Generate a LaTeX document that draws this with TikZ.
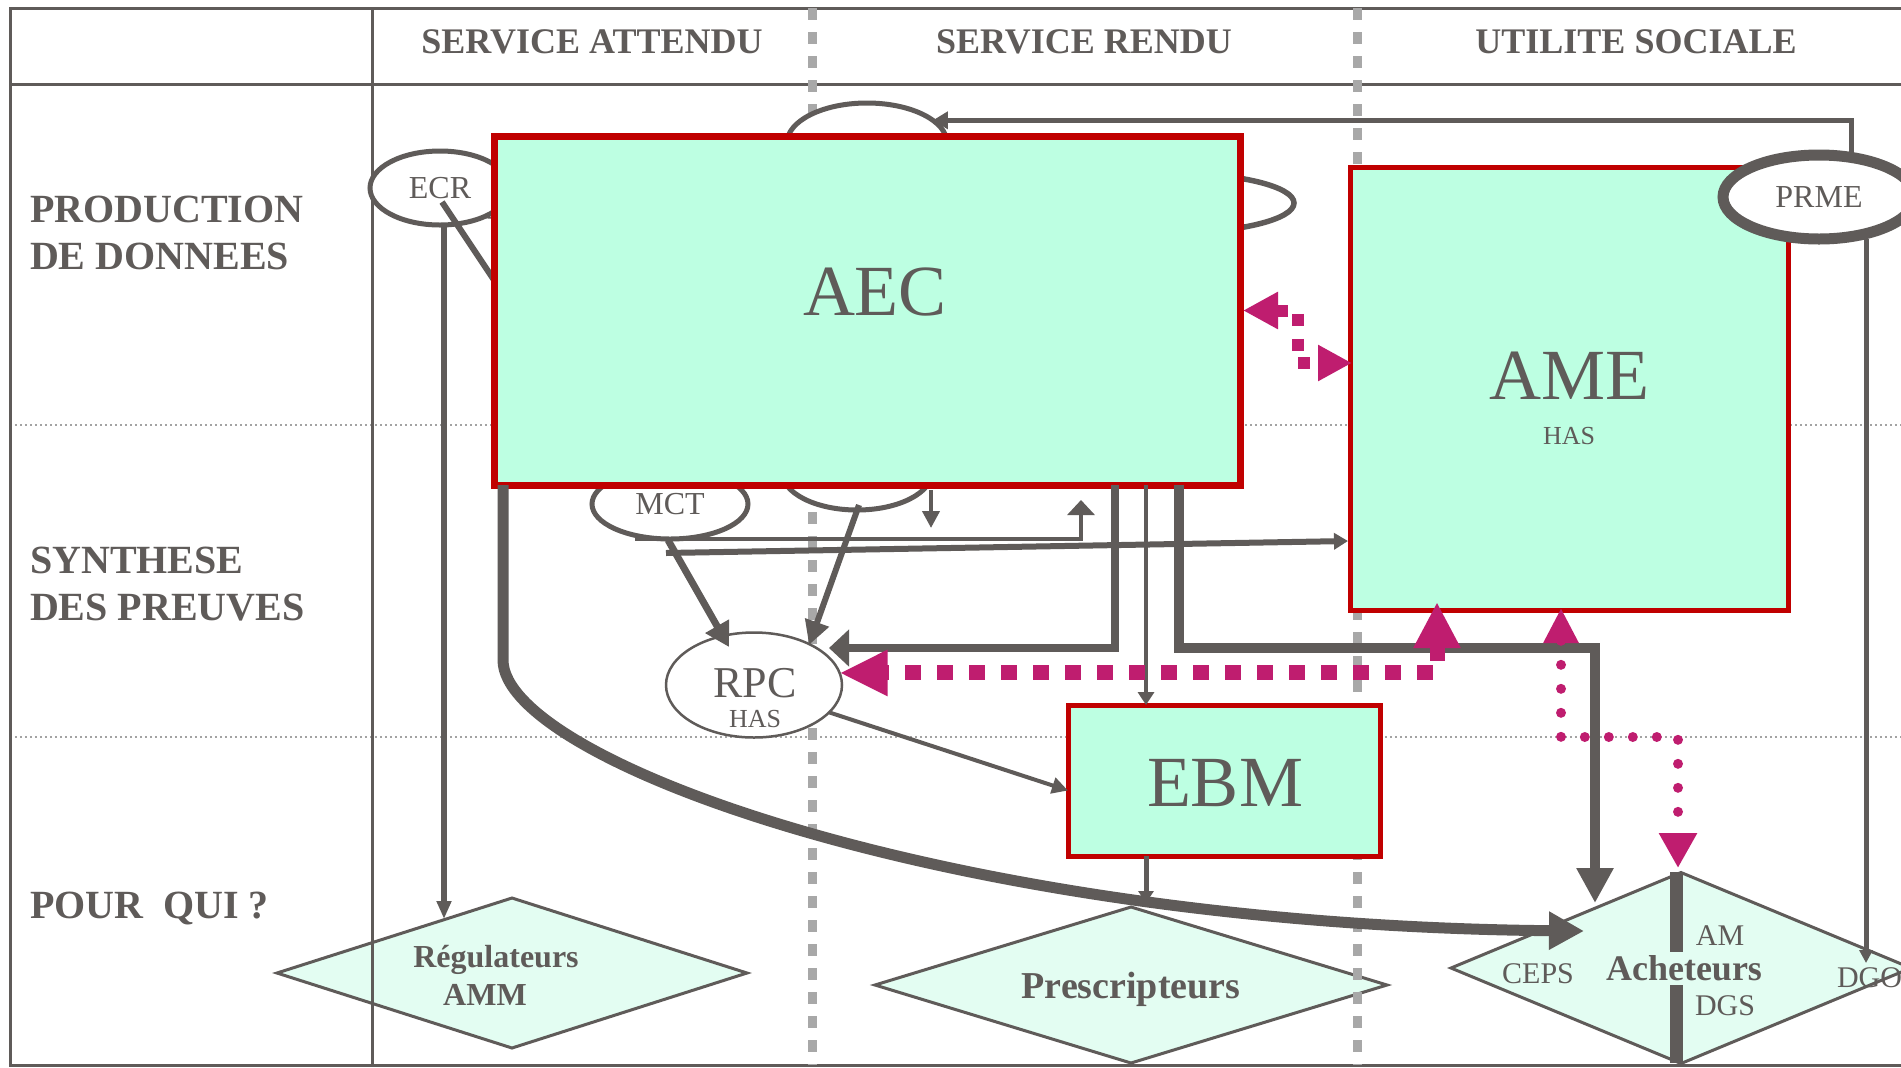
\documentclass[tikz,border=0pt]{standalone}
\usepackage{fontspec}
\setmainfont{Liberation Serif}
\usetikzlibrary{arrows.meta,shapes.geometric,calc}
\definecolor{ink}{HTML}{5F5B59}
\definecolor{boxred}{HTML}{C00000}
\definecolor{mint}{HTML}{BDFFE2}
\definecolor{pale}{HTML}{E3FDF2}
\definecolor{mag}{HTML}{BF1D6F}
\definecolor{sepgray}{HTML}{A8A8A8}
\definecolor{dotgray}{HTML}{A3A3A3}
\pgfdeclarelayer{gridlayer}
\pgfdeclarelayer{underlayer}
\pgfdeclarelayer{overlayer}
\pgfsetlayers{gridlayer,underlayer,main,overlayer}
\tikzset{
  txt/.style={text=ink, inner sep=0pt, outer sep=0pt},
  hdr/.style={txt, font=\fontsize{18}{22}\selectfont\bfseries},
  rowlbl/.style={txt, font=\fontsize{20}{24}\selectfont\bfseries},
  bigtxt/.style={txt, font=\fontsize{36}{42}\selectfont},
  smalltxt/.style={txt, font=\fontsize{13}{16}\selectfont},
  ovaltxt/.style={text=ink, font=\fontsize{16}{19}\selectfont},
  whotxt/.style={txt, font=\fontsize{15}{18}\selectfont},
  boxnode/.style={rectangle, draw=boxred, fill=mint, inner sep=0pt, outer sep=0pt},
  oval/.style={ellipse, draw=ink, fill=white, line width=2.5pt, inner sep=0pt, outer sep=0pt},
  target/.style={diamond, draw=ink, fill=pale, line width=1.5pt, inner sep=0pt, outer sep=0pt},
  conn/.style={draw=ink, line join=miter},
  frameline/.style={draw=ink, line width=1.5pt},
  colsep/.style={draw=sepgray, line width=4.5pt, dash pattern=on 6pt off 6pt},
  rowsep/.style={draw=dotgray, line width=1pt, dash pattern=on 1pt off 1.5pt},
  magdash/.style={draw=mag, line width=7.5pt, dash pattern=on 8pt off 8pt},
  magdot/.style={draw=mag, line width=5pt, dash pattern=on 0pt off 12pt, line cap=round},
}
\begin{document}
\begin{tikzpicture}[x=0.5pt,y=-0.5pt]
\useasboundingbox (0,0) rectangle (1901,1067);

% ---------- table grid, headings and audience diamonds
\begin{pgfonlayer}{gridlayer}
\fill[white] (0,0) rectangle (1901,1067);
\node[target, minimum width=235pt, minimum height=75pt] (REG) at (512,973) {};
\node[target, minimum width=256pt, minimum height=78pt] (PRE) at (1131,985) {};
\node[target, minimum width=230pt, minimum height=95.5pt] (ACH) at (1681,968) {};
\draw[rowsep] (10,425) -- (1901,425);
\draw[rowsep] (10,737) -- (1901,737);
\draw[frameline] (1901,8) -- (10,8) -- (10,1065) -- (1901,1065);
\draw[frameline] (10,84) -- (1901,84);
\draw[frameline] (372,8) -- (372,1065);
\draw[colsep] (812,8) -- (812,1065);
\draw[colsep] (1357,8) -- (1357,1065);
\node[hdr, anchor=base] (hSA) at (592,53) {SERVICE ATTENDU};
\node[hdr, anchor=base] (hSR) at (1084,53) {SERVICE RENDU};
\node[hdr, anchor=base] (hUS) at (1636,53) {UTILITE SOCIALE};
\node[rowlbl, anchor=base west] (rowA1) at (30,222) {PRODUCTION};
\node[rowlbl, anchor=base west] (rowA2) at (30,269) {DE DONNEES};
\node[rowlbl, anchor=base west] (rowB1) at (30,573) {SYNTHESE};
\node[rowlbl, anchor=base west] (rowB2) at (30,620) {DES PREUVES};
\node[rowlbl, anchor=base west] (rowC) at (30,918) {POUR\ \ QUI ?};
\end{pgfonlayer}

% ---------- ellipses partly covered by the AEC box
\begin{pgfonlayer}{underlayer}
\coordinate (ecrC) at (440,188);
\coordinate (ecrW) at (492,219);
\draw[conn, line width=2pt, -{Triangle[length=8pt,width=7pt]}] (ecrC) -- (ecrW);
\node[oval, ovaltxt, minimum width=70pt, minimum height=37pt] (ECR) at (ecrC) {ECR};
\coordinate (ecrDiag) at (514,310);
\draw[conn, line width=3pt] ($(ECR.center)+(2,14)$) -- (ecrDiag);
\node[oval, minimum width=80pt, minimum height=40pt] (TOPE) at (867,143) {};
\node[oval, line width=2.75pt, minimum width=124pt, minimum height=30pt] (RIGHTE) at (1170,203) {};
\node[oval, minimum width=75pt, minimum height=38pt] (MIDE) at (857,472) {};
\node[oval, ovaltxt, minimum width=78pt, minimum height=35pt] (MCT) at (670,504) {MCT};
\end{pgfonlayer}

% ---------- boxes and labels
\node[boxnode, line width=3.5pt, minimum width=373pt, minimum height=174.5pt] (AEC) at (867,310.5) {};
\node[bigtxt, anchor=base] (AECt) at (875,315) {AEC};
\node[boxnode, line width=2.5pt, minimum width=219pt, minimum height=221.5pt] (AME) at (1569,388.5) {};
\node[bigtxt, anchor=base] (AMEt) at (1569,399) {AME};
\node[smalltxt, anchor=base] (AMEh) at (1569,444) {HAS};
\node[boxnode, line width=2.5pt, minimum width=156pt, minimum height=75.5pt] (EBM) at (1224,780.5) {};
\node[bigtxt, anchor=base] (EBMt) at (1225,806) {EBM};
\node[oval, line width=1.25pt, minimum width=88pt, minimum height=52.5pt] (RPC) at (754,685) {};
\node[txt, font=\fontsize{22}{26}\selectfont, anchor=base] (RPCt) at (755,697) {RPC};
\node[smalltxt, anchor=base] (RPCh) at (755,727) {HAS};

\node[txt, font=\fontsize{16}{19}\selectfont\bfseries, anchor=base] (REGt) at (496,967) {Régulateurs};
\node[txt, font=\fontsize{16}{19}\selectfont\bfseries, anchor=base] (REGa) at (485,1005) {AMM};
\node[txt, font=\fontsize{19}{23}\selectfont\bfseries, anchor=base] (PREt) at (1131,998) {Prescripteurs};
\fill[ink] (1669.5,872) rectangle (1682.5,952);
\fill[ink] (1669.5,985) rectangle (1682.5,1063);
\node[txt, font=\fontsize{18}{22}\selectfont\bfseries, anchor=base] (ACHt) at (1684,980) {Acheteurs};
\node[whotxt, anchor=base] (ACHam) at (1720,945) {AM};
\node[whotxt, anchor=base] (ACHdgs) at (1725,1015) {DGS};
\node[whotxt, anchor=base] (ACHceps) at (1538,983) {CEPS};
\node[whotxt, anchor=base west] (ACHdgo) at (1837,987) {DGO};

% ---------- connectors
\begin{pgfonlayer}{overlayer}
\node[oval, ovaltxt, line width=5.5pt, minimum width=96pt, minimum height=42pt] (PRME) at (1819,197) {PRME};
\coordinate (dgoIn) at (1866,963);
\coordinate (regIn) at (444,919);
\coordinate (mctUp) at (1081,500);
\coordinate (ameIn) at (1348,541);
\coordinate (rpcN1) at (729,647);
\coordinate (rpcN2) at (809,645);
\coordinate (midDown) at (931,528);
\coordinate (rpcE) at (829,648);
\coordinate (achTop) at (1595,903);
\coordinate (achLeft) at (1584,931);
\coordinate (preIn) at (1146,903);
\coordinate (achDot) at (1678,868);

\draw[conn, line width=2.5pt, -{Triangle[length=7.5pt,width=8.5pt]}] ($(PRME.north)+(32,0)$) |- (TOPE.19);
\draw[conn, line width=2.5pt, -{Triangle[length=6.5pt,width=6.5pt]}] (PRME.south -| dgoIn) -- (dgoIn);
\draw[conn, line width=3pt, -{Triangle[length=9pt,width=7pt]}] (ECR.south -| regIn) -- (regIn);

\draw[conn, line width=1.75pt, -{Triangle[length=7.5pt,width=13.5pt]}] ($(MCT.south)+(-35,0)$) -| (mctUp);
\draw[conn, line width=3pt, -{Triangle[length=7pt,width=8pt]}] ($(MCT.south)+(-4,14)$) -- (ameIn);
\draw[conn, line width=3.5pt, -{Triangle[length=12pt,width=13pt]}] ($(MCT.south)+(-2,1)$) -- (rpcN1);
\draw[conn, line width=3pt, -{Triangle[length=12pt,width=12pt]}] ($(MIDE.south)+(2,-5)$) -- (rpcN2);
\draw[conn, line width=2pt, -{Triangle[length=8.5pt,width=8.5pt]}] ($(MIDE.east)+(-1,18)$) -- (midDown);

\draw[conn, line width=4pt, -{Triangle[length=10pt,width=18pt]}] ($(AEC.south west)+(621,0)$) |- (rpcE);
\draw[conn, line width=2pt, -{Triangle[length=6.5pt,width=8pt]}] ($(AEC.south west)+(652,0)$) -- ($(EBM.north west)+(78,0)$);
\draw[conn, line width=5pt, -{Triangle[length=17.5pt,width=17.5pt]}] ($(AEC.south west)+(685,0)$) -- ++(0,163) -| (achTop);
\draw[conn, line width=5.5pt, -{Triangle[length=17.5pt,width=18pt]}] ($(AEC.south west)+(9,0)$) -- ++(0,175) .. controls +(0,100) and (950,925) .. (achLeft);
\draw[conn, line width=2pt, -{Triangle[length=8pt,width=8pt]}] (RPC.-20) -- ($(EBM.west)+(0,10)$);
\draw[conn, line width=2.5pt, -{Triangle[length=6pt,width=7.5pt]}] ($(EBM.south west)+(78,0)$) -- (preIn);

% exchanges between assessments
\coordinate (aecM) at ($(AEC.east)+(3,0)$);
\coordinate (ameM) at ($(AME.west)+(2,-25.5)$);
\draw[magdash, line width=6pt, dash pattern=on 6pt off 6.5pt, {Triangle[length=17.5pt,width=17.5pt]}-{Triangle[length=17pt,width=17pt]}] (aecM) -| ($(aecM)!.5!(ameM)$) |- (ameM);
\draw[magdash, {Triangle[length=23pt,width=22pt]}-{Triangle[length=24pt,width=21.5pt]}] ($(AME.south west)+(87,-8)$) |- (RPC.8);
\draw[magdot, {Triangle[length=17.5pt,width=16.5pt]}-{Triangle[length=17.5pt,width=18pt]}] ($(AME.south west)+(211,-2)$) -- ++(0,129) -| (achDot);
\end{pgfonlayer}
\end{tikzpicture}
\end{document}
